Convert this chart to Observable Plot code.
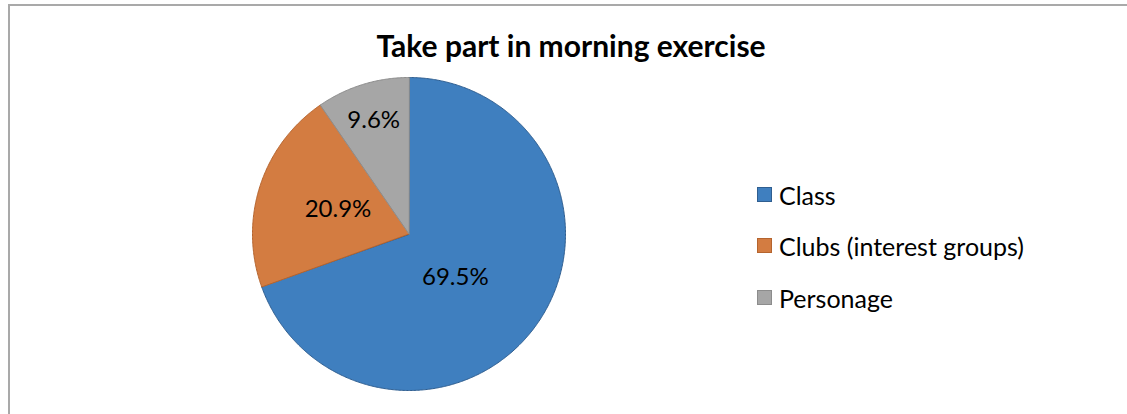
<!DOCTYPE html>
<html>
<head>
<meta charset="utf-8">
<script src="https://cdn.jsdelivr.net/npm/d3@7"></script>
<script src="https://cdn.jsdelivr.net/npm/@observablehq/plot@0.6"></script>
<style>
  html, body { margin: 0; padding: 0; background: #fff; }
  #wrap { position: relative; width: 1127px; height: 414px; overflow: hidden; font-family: Lato, "Open Sans", sans-serif; }
  #frame { position: absolute; left: 8px; top: 4px; width: 1200px; height: 500px; border: 2px solid #a9a9a9; box-sizing: border-box; }
  #title { position: absolute; left: 0; width: 1142px; top: 27px; text-align: center; font-weight: 700; font-size: 30px; color: #000; white-space: nowrap; }
  #chart { position: absolute; left: 0; top: 0; }
  .item { position: absolute; left: 757px; height: 24px; display: flex; align-items: center; font-size: 25px; color: #000; white-space: nowrap; }
  .sw { width: 13px; height: 13px; border: 1px solid; margin-right: 7px; flex: none; }
</style>
</head>
<body>
<div id="wrap">
  <div id="frame"></div>
  <div id="title">Take part in morning exercise</div>
  <div id="chart"></div>
</div>
<script>
// ---- data ----
const categories = ["Class", "Clubs (interest groups)", "Personage"];
const values = [69.5, 20.9, 9.6];
const labels = ["69.5%", "20.9%", "9.6%"];
const colors = ["#3f7fbf", "#d37c41", "#a6a6a6"];
const strokes = ["#2f5e90", "#b5642e", "#8c8c8c"];

// ---- layout (label placement along each slice's bisector, plus pixel nudge) ----
const R = 156.5; // pixels per unit radius (frame is 313px square)
const labelRadius = [0.44, 0.49, 0.76];
const labelShift = [[-10, 4], [2, -1], [0, 0]];

const total = d3.sum(values);
let acc = 0;
const slices = categories.map((c, i) => {
  const a0 = acc / total * 2 * Math.PI;
  acc += values[i];
  const a1 = acc / total * 2 * Math.PI;
  const n = Math.max(2, Math.ceil((a1 - a0) / (Math.PI / 360)));
  const ring = [[0, 0]];
  for (let k = 0; k <= n; k++) {
    const a = a0 + (a1 - a0) * k / n;
    ring.push([Math.sin(a), Math.cos(a)]);
  }
  ring.push([0, 0]);
  const mid = (a0 + a1) / 2;
  return {
    category: c, value: values[i], label: labels[i],
    geometry: {type: "Polygon", coordinates: [ring]},
    lx: labelRadius[i] * Math.sin(mid) + labelShift[i][0] / R,
    ly: labelRadius[i] * Math.cos(mid) - labelShift[i][1] / R
  };
});

const features = slices.map(s => ({type: "Feature", properties: s, geometry: s.geometry}));

const plot = Plot.plot({
  width: 1127,
  height: 414,
  marginLeft: 252,
  marginRight: 562,
  marginTop: 77,
  marginBottom: 24,
  style: {background: "transparent", fontFamily: "Lato, 'Open Sans', sans-serif"},
  projection: {type: "reflect-y", domain: {type: "MultiPoint", coordinates: [[-1, -1], [1, 1]]}, inset: 0},
  color: {domain: categories, range: colors},
  marks: [
    Plot.geo(features, {
      fill: d => d.properties.category,
      stroke: d => strokes[categories.indexOf(d.properties.category)],
      strokeWidth: 1
    }),
    Plot.text(slices, {
      x: "lx", y: "ly", text: "label",
      fontSize: 24, fill: "#000"
    })
  ]
});
document.getElementById("chart").appendChild(plot);

// legend
const wrap = document.getElementById("wrap");
const legendTop = [182.5, 233.5, 285.5];
categories.forEach((c, i) => {
  const it = document.createElement("div");
  it.className = "item";
  it.style.top = legendTop[i] + "px";
  const sw = document.createElement("div");
  sw.className = "sw";
  sw.style.background = colors[i];
  sw.style.borderColor = strokes[i];
  const tx = document.createElement("span");
  tx.textContent = c;
  it.appendChild(sw); it.appendChild(tx);
  wrap.appendChild(it);
});
</script>
</body>
</html>
